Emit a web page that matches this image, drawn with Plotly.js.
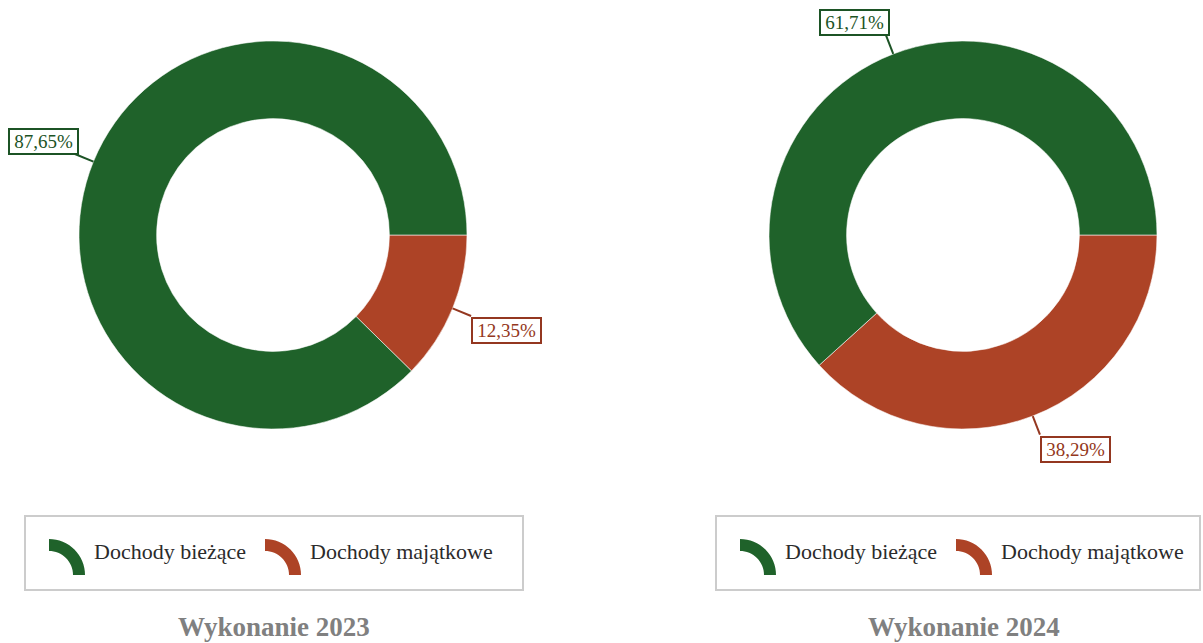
<!DOCTYPE html>
<html>
<head>
<meta charset="utf-8">
<script src="https://cdn.plot.ly/plotly-3.0.1.min.js"></script>
<style>html,body{margin:0;padding:0;background:#fff;}#chart{width:1203px;height:643px;}</style>
</head>
<body>
<div id="chart"></div>
<script>
// ---- data ----
const categories = ['Dochody bieżące', 'Dochody majątkowe'];
const chartTitles = ['Wykonanie 2023', 'Wykonanie 2024'];
const values2023 = [87.65, 12.35];
const values2024 = [61.71, 38.29];

// ---- styles / geometry ----
const sliceColors = ['#1f622a', '#ad4326'];
const labelColors = ['#1c5325', '#943720'];
const W = 1203, H = 643;
const centersX = [273, 963];
const centerY = 235;
const R = 194;
const serif = 'Liberation Serif, Times New Roman, serif';

const px = x => x / W;
const py = y => 1 - y / H;

const series = [values2023, values2024];
const traces = [];
const annotations = [];
const shapes = [];

series.forEach((vals, k) => {
  const cx = centersX[k];
  // slices drawn clockwise from 3 o'clock starting with the last category,
  // which places the first category counterclockwise from 3 o'clock
  traces.push({
    type: 'pie',
    values: vals.slice().reverse(),
    labels: categories.slice().reverse(),
    sort: false,
    direction: 'clockwise',
    rotation: 90,
    hole: 0.6,
    textinfo: 'none',
    hoverinfo: 'skip',
    showlegend: false,
    marker: {colors: sliceColors.slice().reverse(), line: {color: 'rgba(255,255,255,0.7)', width: 0.8}},
    domain: {x: [px(cx - R), px(cx + R)], y: [py(centerY + R), py(centerY - R)]}
  });

  // outside labels with leader lines
  const total = vals.reduce((a, b) => a + b, 0);
  let cum = 0;
  vals.forEach((v, i) => {
    const theta = 2 * Math.PI * (cum + v / 2) / total;
    cum += v;
    const dx = Math.cos(theta), dy = -Math.sin(theta);
    const ex = cx + R * dx, ey = centerY + R * dy;
    const L = 20;
    const tx = ex + L * dx, ty = ey + L * dy;
    shapes.push({type: 'line', xref: 'paper', yref: 'paper',
      x0: px(ex), y0: py(ey), x1: px(tx), y1: py(ty),
      line: {color: labelColors[i], width: 2}});
    annotations.push({
      xref: 'paper', yref: 'paper', x: px(tx + (dx < 0 ? 4 : 0)), y: py(ty + 1),
      xanchor: dx < 0 ? 'right' : 'left',
      yanchor: dy < 0 ? 'bottom' : 'top',
      text: v.toFixed(2).replace('.', ',') + '%',
      showarrow: false,
      font: {family: serif, size: 19, color: labelColors[i]},
      bgcolor: '#ffffff',
      bordercolor: labelColors[i], borderwidth: 2, borderpad: 1.5,
      width: 64, height: 20
    });
  });

  // legend box
  const boxL = [25, 716][k], boxR = [523, 1200][k];
  shapes.push({type: 'rect', xref: 'paper', yref: 'paper',
    x0: px(boxL), x1: px(boxR), y0: py(590), y1: py(516),
    line: {color: '#cccccc', width: 2}, fillcolor: 'rgba(0,0,0,0)'});

  const itemOffsets = [24, 240];
  categories.forEach((c, i) => {
    const ix = boxL + itemOffsets[i];
    // arc icon (quarter ring)
    const acx = ix, acy = 575, ro = 36, ri = 24;
    const a0 = 90, a1 = 0;
    const N = 16;
    const pts = [];
    for (let s = 0; s <= N; s++) {
      const a = (a0 + (a1 - a0) * s / N) * Math.PI / 180;
      pts.push([acx + ro * Math.cos(a), acy - ro * Math.sin(a)]);
    }
    for (let s = N; s >= 0; s--) {
      const a = (a0 + (a1 - a0) * s / N) * Math.PI / 180;
      pts.push([acx + ri * Math.cos(a), acy - ri * Math.sin(a)]);
    }
    const path = pts.map((p, j) => (j === 0 ? 'M' : 'L') + px(p[0]).toFixed(5) + ',' + py(p[1]).toFixed(5)).join(' ') + ' Z';
    shapes.push({type: 'path', xref: 'paper', yref: 'paper', path: path,
      fillcolor: sliceColors[i], line: {width: 0}});
    annotations.push({
      xref: 'paper', yref: 'paper', x: px(ix + 43), y: py(551),
      xanchor: 'left', yanchor: 'middle', showarrow: false,
      text: c, font: {family: serif, size: 22, color: '#2b2b2b'}
    });
  });

  // chart title
  annotations.push({
    xref: 'paper', yref: 'paper', x: px(cx + 1), y: py(627),
    xanchor: 'center', yanchor: 'middle', showarrow: false,
    text: '<b>' + chartTitles[k] + '</b>',
    font: {family: serif, size: 27, color: '#808080'}
  });
});

const layout = {
  width: W, height: H,
  margin: {l: 0, r: 0, t: 0, b: 0},
  paper_bgcolor: '#ffffff',
  showlegend: false,
  annotations: annotations,
  shapes: shapes
};

Plotly.newPlot('chart', traces, layout, {displayModeBar: false, staticPlot: true});
</script>
</body>
</html>
